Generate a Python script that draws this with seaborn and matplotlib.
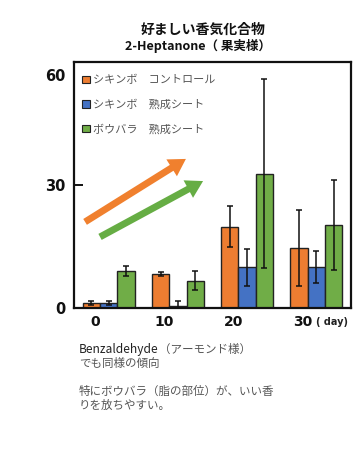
import numpy as np
import pandas as pd
import seaborn as sns
import matplotlib
matplotlib.use("Agg")
import matplotlib.pyplot as plt
from matplotlib.text import Annotation

days = ["0", "10", "20", "30"]
groups = ["シキンボ　コントロール", "シキンボ　熟成シート", "ボウバラ　熟成シート"]
means_control = [1.2, 8.3, 19.8, 14.6]
means_shikinbo_aged = [1.2, 0.5, 9.9, 10.1]
means_boubara_aged = [9.1, 6.7, 32.8, 20.2]
err_control = [0.4, 0.4, 5.0, 9.2]
err_shikinbo_aged = [0.4, 1.1, 4.5, 3.9]
err_boubara_aged = [1.2, 2.3, 23.0, 11.0]
yticks = [0, 30, 60]
colors = ["#ED7D31", "#4472C4", "#70AD47"]

sns.set_theme(style="white")
plt.rcParams["font.family"] = ["Noto Sans CJK JP", "DejaVu Sans"]

rows = []
for g, vals in zip(groups, [means_control, means_shikinbo_aged, means_boubara_aged]):
    for d, v in zip(days, vals):
        rows.append({"day": d, "group": g, "value": v})
df = pd.DataFrame(rows)
errs = [err_control, err_shikinbo_aged, err_boubara_aged]

fig = plt.figure(figsize=(3.59, 4.51), dpi=100)
ax = fig.add_axes([74 / 359, 1 - 308 / 451, 277 / 359, 246 / 451])

sns.barplot(data=df, x="day", y="value", hue="group", order=days, hue_order=groups,
            palette=colors, errorbar=None, width=0.75, edgecolor="#222222",
            linewidth=1.0, saturation=1, ax=ax)

for cont, e in zip(ax.containers, errs):
    xs = [b.get_x() + b.get_width() / 2 for b in cont]
    hs = [b.get_height() for b in cont]
    ax.errorbar(xs, hs, yerr=e, fmt="none", ecolor="#111111", elinewidth=1.1,
                capsize=2.5, capthick=1.1, zorder=5)

ax.set_xlim(-0.5, len(days) - 0.5)
ax.set_ylim(0, 60)
ax.set_xlabel("")
ax.set_ylabel("")

for s in ax.spines.values():
    s.set_visible(True)
    s.set_color("#111111")
    s.set_linewidth(1.6)

ax.set_yticks(yticks)
ax.set_yticklabels(["0", "30", ""], fontsize=10.5, fontweight="bold", family="DejaVu Sans")
ax.tick_params(axis="y", direction="in", length=6.5, width=1.4, color="#111111", pad=6,
               left=True, labelcolor="#111111")
ax.annotate("60", xy=(0, 60), xycoords=("axes fraction", "data"), xytext=(-9, -14),
            textcoords="offset pixels", ha="right", va="center", fontsize=10.5,
            fontweight="bold", family="DejaVu Sans", color="#111111")

ax.set_xticks(np.arange(len(days)) - 0.2)
ax.set_xticklabels(days, fontsize=10, fontweight="bold", family="DejaVu Sans", color="#111111")
ax.tick_params(axis="x", length=0, pad=5)
ax.annotate("( day)", xy=(len(days) - 1 - 0.2, 0), xycoords="data", xytext=(13, -14),
            textcoords="offset pixels", ha="left", va="center", fontsize=7,
            fontweight="bold", family="DejaVu Sans", color="#222222")

leg = ax.legend(loc="upper left", frameon=False, fontsize=8, labelspacing=1.25,
                handlelength=0.65, handleheight=0.65, handletextpad=0.35,
                borderaxespad=0.35, bbox_to_anchor=(0.0, 0.98))
for t in leg.get_texts():
    t.set_color("#555555")
for h in leg.legend_handles:
    h.set_edgecolor("#222222")
    h.set_linewidth(0.8)

ax.annotate("", xy=(0.404, 0.606), xytext=(0.040, 0.350), xycoords="axes fraction",
            arrowprops=dict(arrowstyle="simple,head_length=1.1,head_width=1.3,tail_width=0.45",
                            color="#F0802E", lw=0, shrinkA=0, shrinkB=0, mutation_scale=11))
ax.annotate("", xy=(0.466, 0.516), xytext=(0.094, 0.289), xycoords="axes fraction",
            arrowprops=dict(arrowstyle="simple,head_length=1.1,head_width=1.3,tail_width=0.45",
                            color="#66AD44", lw=0, shrinkA=0, shrinkB=0, mutation_scale=11))

fig.text(203 / 359, 1 - 30 / 451, "好ましい香気化合物", ha="center", va="center",
         fontsize=10, fontweight="bold", color="#111111")
fig.text(198 / 359, 1 - 46 / 451, "2-Heptanone（ 果実様）", ha="center", va="center",
         fontsize=9, fontweight="bold", color="#111111")

benz = fig.text(79 / 359, 1 - 349 / 451, "Benzaldehyde", ha="left", va="center",
                fontsize=8.6, color="#222222")
ann = Annotation("（アーモンド様）", xy=(1.0, 0.5), xycoords=benz,
                 xytext=(0.5, 0), textcoords="offset points",
                 ha="left", va="center", fontsize=8.3, color="#555555")
fig.add_artist(ann)
fig.text(79 / 359, 1 - 363 / 451, "でも同様の傾向", ha="left", va="center",
         fontsize=8.3, color="#555555")
fig.text(79 / 359, 1 - 391 / 451, "特にボウバラ（脂の部位）が、いい香", ha="left", va="center",
         fontsize=8.3, color="#555555")
fig.text(79 / 359, 1 - 405 / 451, "りを放ちやすい。", ha="left", va="center",
         fontsize=8.3, color="#555555")

fig.savefig("out.png", dpi=100)
